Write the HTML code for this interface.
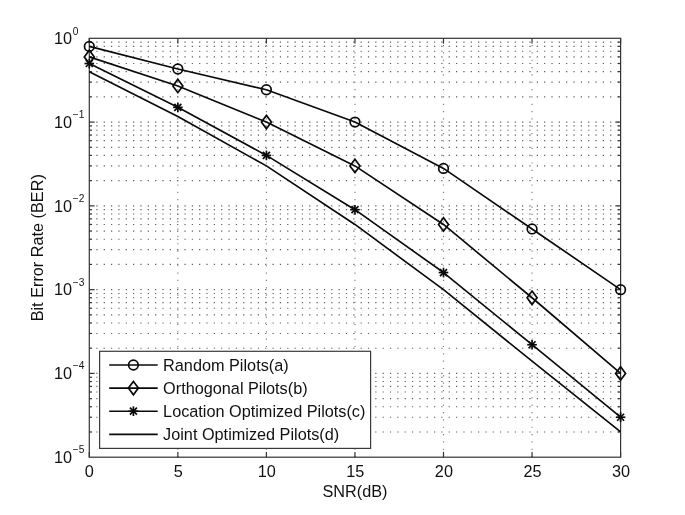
<!DOCTYPE html>
<html lang="en"><head><meta charset="utf-8"><title>BER vs SNR</title>
<style>html,body{margin:0;padding:0;background:#fff;}body{width:685px;height:515px;overflow:hidden;font-family:"Liberation Sans",Arial,sans-serif;}svg{display:block;}</style>
</head><body>
<svg width="685" height="515" viewBox="0 0 685 515" font-family="Liberation Sans, Arial, Helvetica, sans-serif">
<rect width="685" height="515" fill="#fff"/>
<g stroke="#5a5a5a" stroke-width="1.15" stroke-dasharray="1.2 6.14" fill="none"><line x1="89.00" y1="122.08" x2="620.60" y2="122.08"/><line x1="89.00" y1="96.86" x2="620.60" y2="96.86"/><line x1="89.00" y1="82.11" x2="620.60" y2="82.11"/><line x1="89.00" y1="71.64" x2="620.60" y2="71.64"/><line x1="89.00" y1="63.52" x2="620.60" y2="63.52"/><line x1="89.00" y1="56.89" x2="620.60" y2="56.89"/><line x1="89.00" y1="51.28" x2="620.60" y2="51.28"/><line x1="89.00" y1="46.42" x2="620.60" y2="46.42"/><line x1="89.00" y1="42.13" x2="620.60" y2="42.13"/><line x1="89.00" y1="205.86" x2="620.60" y2="205.86"/><line x1="89.00" y1="180.64" x2="620.60" y2="180.64"/><line x1="89.00" y1="165.89" x2="620.60" y2="165.89"/><line x1="89.00" y1="155.42" x2="620.60" y2="155.42"/><line x1="89.00" y1="147.30" x2="620.60" y2="147.30"/><line x1="89.00" y1="140.67" x2="620.60" y2="140.67"/><line x1="89.00" y1="135.06" x2="620.60" y2="135.06"/><line x1="89.00" y1="130.20" x2="620.60" y2="130.20"/><line x1="89.00" y1="125.91" x2="620.60" y2="125.91"/><line x1="89.00" y1="289.64" x2="620.60" y2="289.64"/><line x1="89.00" y1="264.42" x2="620.60" y2="264.42"/><line x1="89.00" y1="249.67" x2="620.60" y2="249.67"/><line x1="89.00" y1="239.20" x2="620.60" y2="239.20"/><line x1="89.00" y1="231.08" x2="620.60" y2="231.08"/><line x1="89.00" y1="224.45" x2="620.60" y2="224.45"/><line x1="89.00" y1="218.84" x2="620.60" y2="218.84"/><line x1="89.00" y1="213.98" x2="620.60" y2="213.98"/><line x1="89.00" y1="209.69" x2="620.60" y2="209.69"/><line x1="89.00" y1="373.42" x2="620.60" y2="373.42"/><line x1="89.00" y1="348.20" x2="620.60" y2="348.20"/><line x1="89.00" y1="333.45" x2="620.60" y2="333.45"/><line x1="89.00" y1="322.98" x2="620.60" y2="322.98"/><line x1="89.00" y1="314.86" x2="620.60" y2="314.86"/><line x1="89.00" y1="308.23" x2="620.60" y2="308.23"/><line x1="89.00" y1="302.62" x2="620.60" y2="302.62"/><line x1="89.00" y1="297.76" x2="620.60" y2="297.76"/><line x1="89.00" y1="293.47" x2="620.60" y2="293.47"/><line x1="89.00" y1="431.98" x2="620.60" y2="431.98"/><line x1="89.00" y1="417.23" x2="620.60" y2="417.23"/><line x1="89.00" y1="406.76" x2="620.60" y2="406.76"/><line x1="89.00" y1="398.64" x2="620.60" y2="398.64"/><line x1="89.00" y1="392.01" x2="620.60" y2="392.01"/><line x1="89.00" y1="386.40" x2="620.60" y2="386.40"/><line x1="89.00" y1="381.54" x2="620.60" y2="381.54"/><line x1="89.00" y1="377.25" x2="620.60" y2="377.25"/><line x1="177.85" y1="457.20" x2="177.85" y2="38.30" stroke="#7d7d7d"/><line x1="266.40" y1="457.20" x2="266.40" y2="38.30" stroke="#7d7d7d"/><line x1="354.95" y1="457.20" x2="354.95" y2="38.30" stroke="#7d7d7d"/><line x1="443.50" y1="457.20" x2="443.50" y2="38.30" stroke="#7d7d7d"/><line x1="532.05" y1="457.20" x2="532.05" y2="38.30" stroke="#7d7d7d"/></g>
<rect x="89.3" y="38.3" width="531.3000000000001" height="418.9" fill="none" stroke="#333" stroke-width="1.2"/>
<g stroke="#333" stroke-width="1.2"><line x1="89.30" y1="457.2" x2="89.30" y2="451.9"/><line x1="89.30" y1="38.3" x2="89.30" y2="43.599999999999994"/><line x1="177.85" y1="457.2" x2="177.85" y2="451.9"/><line x1="177.85" y1="38.3" x2="177.85" y2="43.599999999999994"/><line x1="266.40" y1="457.2" x2="266.40" y2="451.9"/><line x1="266.40" y1="38.3" x2="266.40" y2="43.599999999999994"/><line x1="354.95" y1="457.2" x2="354.95" y2="451.9"/><line x1="354.95" y1="38.3" x2="354.95" y2="43.599999999999994"/><line x1="443.50" y1="457.2" x2="443.50" y2="451.9"/><line x1="443.50" y1="38.3" x2="443.50" y2="43.599999999999994"/><line x1="532.05" y1="457.2" x2="532.05" y2="451.9"/><line x1="532.05" y1="38.3" x2="532.05" y2="43.599999999999994"/><line x1="620.60" y1="457.2" x2="620.60" y2="451.9"/><line x1="620.60" y1="38.3" x2="620.60" y2="43.599999999999994"/><line x1="89.3" y1="122.08" x2="94.6" y2="122.08"/><line x1="620.6" y1="122.08" x2="615.3000000000001" y2="122.08"/><line x1="89.3" y1="96.86" x2="92.0" y2="96.86"/><line x1="620.6" y1="96.86" x2="617.9" y2="96.86"/><line x1="89.3" y1="82.11" x2="92.0" y2="82.11"/><line x1="620.6" y1="82.11" x2="617.9" y2="82.11"/><line x1="89.3" y1="71.64" x2="92.0" y2="71.64"/><line x1="620.6" y1="71.64" x2="617.9" y2="71.64"/><line x1="89.3" y1="63.52" x2="92.0" y2="63.52"/><line x1="620.6" y1="63.52" x2="617.9" y2="63.52"/><line x1="89.3" y1="56.89" x2="92.0" y2="56.89"/><line x1="620.6" y1="56.89" x2="617.9" y2="56.89"/><line x1="89.3" y1="51.28" x2="92.0" y2="51.28"/><line x1="620.6" y1="51.28" x2="617.9" y2="51.28"/><line x1="89.3" y1="46.42" x2="92.0" y2="46.42"/><line x1="620.6" y1="46.42" x2="617.9" y2="46.42"/><line x1="89.3" y1="42.13" x2="92.0" y2="42.13"/><line x1="620.6" y1="42.13" x2="617.9" y2="42.13"/><line x1="89.3" y1="205.86" x2="94.6" y2="205.86"/><line x1="620.6" y1="205.86" x2="615.3000000000001" y2="205.86"/><line x1="89.3" y1="180.64" x2="92.0" y2="180.64"/><line x1="620.6" y1="180.64" x2="617.9" y2="180.64"/><line x1="89.3" y1="165.89" x2="92.0" y2="165.89"/><line x1="620.6" y1="165.89" x2="617.9" y2="165.89"/><line x1="89.3" y1="155.42" x2="92.0" y2="155.42"/><line x1="620.6" y1="155.42" x2="617.9" y2="155.42"/><line x1="89.3" y1="147.30" x2="92.0" y2="147.30"/><line x1="620.6" y1="147.30" x2="617.9" y2="147.30"/><line x1="89.3" y1="140.67" x2="92.0" y2="140.67"/><line x1="620.6" y1="140.67" x2="617.9" y2="140.67"/><line x1="89.3" y1="135.06" x2="92.0" y2="135.06"/><line x1="620.6" y1="135.06" x2="617.9" y2="135.06"/><line x1="89.3" y1="130.20" x2="92.0" y2="130.20"/><line x1="620.6" y1="130.20" x2="617.9" y2="130.20"/><line x1="89.3" y1="125.91" x2="92.0" y2="125.91"/><line x1="620.6" y1="125.91" x2="617.9" y2="125.91"/><line x1="89.3" y1="289.64" x2="94.6" y2="289.64"/><line x1="620.6" y1="289.64" x2="615.3000000000001" y2="289.64"/><line x1="89.3" y1="264.42" x2="92.0" y2="264.42"/><line x1="620.6" y1="264.42" x2="617.9" y2="264.42"/><line x1="89.3" y1="249.67" x2="92.0" y2="249.67"/><line x1="620.6" y1="249.67" x2="617.9" y2="249.67"/><line x1="89.3" y1="239.20" x2="92.0" y2="239.20"/><line x1="620.6" y1="239.20" x2="617.9" y2="239.20"/><line x1="89.3" y1="231.08" x2="92.0" y2="231.08"/><line x1="620.6" y1="231.08" x2="617.9" y2="231.08"/><line x1="89.3" y1="224.45" x2="92.0" y2="224.45"/><line x1="620.6" y1="224.45" x2="617.9" y2="224.45"/><line x1="89.3" y1="218.84" x2="92.0" y2="218.84"/><line x1="620.6" y1="218.84" x2="617.9" y2="218.84"/><line x1="89.3" y1="213.98" x2="92.0" y2="213.98"/><line x1="620.6" y1="213.98" x2="617.9" y2="213.98"/><line x1="89.3" y1="209.69" x2="92.0" y2="209.69"/><line x1="620.6" y1="209.69" x2="617.9" y2="209.69"/><line x1="89.3" y1="373.42" x2="94.6" y2="373.42"/><line x1="620.6" y1="373.42" x2="615.3000000000001" y2="373.42"/><line x1="89.3" y1="348.20" x2="92.0" y2="348.20"/><line x1="620.6" y1="348.20" x2="617.9" y2="348.20"/><line x1="89.3" y1="333.45" x2="92.0" y2="333.45"/><line x1="620.6" y1="333.45" x2="617.9" y2="333.45"/><line x1="89.3" y1="322.98" x2="92.0" y2="322.98"/><line x1="620.6" y1="322.98" x2="617.9" y2="322.98"/><line x1="89.3" y1="314.86" x2="92.0" y2="314.86"/><line x1="620.6" y1="314.86" x2="617.9" y2="314.86"/><line x1="89.3" y1="308.23" x2="92.0" y2="308.23"/><line x1="620.6" y1="308.23" x2="617.9" y2="308.23"/><line x1="89.3" y1="302.62" x2="92.0" y2="302.62"/><line x1="620.6" y1="302.62" x2="617.9" y2="302.62"/><line x1="89.3" y1="297.76" x2="92.0" y2="297.76"/><line x1="620.6" y1="297.76" x2="617.9" y2="297.76"/><line x1="89.3" y1="293.47" x2="92.0" y2="293.47"/><line x1="620.6" y1="293.47" x2="617.9" y2="293.47"/><line x1="89.3" y1="431.98" x2="92.0" y2="431.98"/><line x1="620.6" y1="431.98" x2="617.9" y2="431.98"/><line x1="89.3" y1="417.23" x2="92.0" y2="417.23"/><line x1="620.6" y1="417.23" x2="617.9" y2="417.23"/><line x1="89.3" y1="406.76" x2="92.0" y2="406.76"/><line x1="620.6" y1="406.76" x2="617.9" y2="406.76"/><line x1="89.3" y1="398.64" x2="92.0" y2="398.64"/><line x1="620.6" y1="398.64" x2="617.9" y2="398.64"/><line x1="89.3" y1="392.01" x2="92.0" y2="392.01"/><line x1="620.6" y1="392.01" x2="617.9" y2="392.01"/><line x1="89.3" y1="386.40" x2="92.0" y2="386.40"/><line x1="620.6" y1="386.40" x2="617.9" y2="386.40"/><line x1="89.3" y1="381.54" x2="92.0" y2="381.54"/><line x1="620.6" y1="381.54" x2="617.9" y2="381.54"/><line x1="89.3" y1="377.25" x2="92.0" y2="377.25"/><line x1="620.6" y1="377.25" x2="617.9" y2="377.25"/></g>
<polyline points="89.30,46.42 177.85,69.01 266.40,89.77 354.95,122.08 443.50,168.40 532.05,228.96 620.60,289.64" stroke="#0a0a0a" stroke-width="1.65" fill="none" stroke-linejoin="round"/>
<circle cx="89.30" cy="46.42" r="4.8" stroke="#0a0a0a" stroke-width="1.7" fill="none"/>
<circle cx="177.85" cy="69.01" r="4.8" stroke="#0a0a0a" stroke-width="1.7" fill="none"/>
<circle cx="266.40" cy="89.77" r="4.8" stroke="#0a0a0a" stroke-width="1.7" fill="none"/>
<circle cx="354.95" cy="122.08" r="4.8" stroke="#0a0a0a" stroke-width="1.7" fill="none"/>
<circle cx="443.50" cy="168.40" r="4.8" stroke="#0a0a0a" stroke-width="1.7" fill="none"/>
<circle cx="532.05" cy="228.96" r="4.8" stroke="#0a0a0a" stroke-width="1.7" fill="none"/>
<circle cx="620.60" cy="289.64" r="4.8" stroke="#0a0a0a" stroke-width="1.7" fill="none"/>
<polyline points="89.30,56.89 177.85,85.94 266.40,122.08 354.95,165.89 443.50,224.45 532.05,297.76 620.60,373.42" stroke="#0a0a0a" stroke-width="1.65" fill="none" stroke-linejoin="round"/>
<polygon points="89.30,50.19 94.30,56.89 89.30,63.59 84.30,56.89" stroke="#0a0a0a" stroke-width="1.7" fill="none"/>
<polygon points="177.85,79.24 182.85,85.94 177.85,92.64 172.85,85.94" stroke="#0a0a0a" stroke-width="1.7" fill="none"/>
<polygon points="266.40,115.38 271.40,122.08 266.40,128.78 261.40,122.08" stroke="#0a0a0a" stroke-width="1.7" fill="none"/>
<polygon points="354.95,159.19 359.95,165.89 354.95,172.59 349.95,165.89" stroke="#0a0a0a" stroke-width="1.7" fill="none"/>
<polygon points="443.50,217.75 448.50,224.45 443.50,231.15 438.50,224.45" stroke="#0a0a0a" stroke-width="1.7" fill="none"/>
<polygon points="532.05,291.06 537.05,297.76 532.05,304.46 527.05,297.76" stroke="#0a0a0a" stroke-width="1.7" fill="none"/>
<polygon points="620.60,366.72 625.60,373.42 620.60,380.12 615.60,373.42" stroke="#0a0a0a" stroke-width="1.7" fill="none"/>
<polyline points="89.30,63.52 177.85,107.33 266.40,155.42 354.95,209.69 443.50,272.54 532.05,344.73 620.60,417.23" stroke="#0a0a0a" stroke-width="1.65" fill="none" stroke-linejoin="round"/>
<g stroke="#0a0a0a" stroke-width="1.7" fill="none" stroke-width="1.8"><line x1="84.50" y1="63.52" x2="94.10" y2="63.52"/><line x1="89.30" y1="58.72" x2="89.30" y2="68.32"/><line x1="85.80" y1="60.02" x2="92.80" y2="67.02"/><line x1="85.80" y1="67.02" x2="92.80" y2="60.02"/></g>
<g stroke="#0a0a0a" stroke-width="1.7" fill="none" stroke-width="1.8"><line x1="173.05" y1="107.33" x2="182.65" y2="107.33"/><line x1="177.85" y1="102.53" x2="177.85" y2="112.13"/><line x1="174.35" y1="103.83" x2="181.35" y2="110.83"/><line x1="174.35" y1="110.83" x2="181.35" y2="103.83"/></g>
<g stroke="#0a0a0a" stroke-width="1.7" fill="none" stroke-width="1.8"><line x1="261.60" y1="155.42" x2="271.20" y2="155.42"/><line x1="266.40" y1="150.62" x2="266.40" y2="160.22"/><line x1="262.90" y1="151.92" x2="269.90" y2="158.92"/><line x1="262.90" y1="158.92" x2="269.90" y2="151.92"/></g>
<g stroke="#0a0a0a" stroke-width="1.7" fill="none" stroke-width="1.8"><line x1="350.15" y1="209.69" x2="359.75" y2="209.69"/><line x1="354.95" y1="204.89" x2="354.95" y2="214.49"/><line x1="351.45" y1="206.19" x2="358.45" y2="213.19"/><line x1="351.45" y1="213.19" x2="358.45" y2="206.19"/></g>
<g stroke="#0a0a0a" stroke-width="1.7" fill="none" stroke-width="1.8"><line x1="438.70" y1="272.54" x2="448.30" y2="272.54"/><line x1="443.50" y1="267.74" x2="443.50" y2="277.34"/><line x1="440.00" y1="269.04" x2="447.00" y2="276.04"/><line x1="440.00" y1="276.04" x2="447.00" y2="269.04"/></g>
<g stroke="#0a0a0a" stroke-width="1.7" fill="none" stroke-width="1.8"><line x1="527.25" y1="344.73" x2="536.85" y2="344.73"/><line x1="532.05" y1="339.93" x2="532.05" y2="349.53"/><line x1="528.55" y1="341.23" x2="535.55" y2="348.23"/><line x1="528.55" y1="348.23" x2="535.55" y2="341.23"/></g>
<g stroke="#0a0a0a" stroke-width="1.7" fill="none" stroke-width="1.8"><line x1="615.80" y1="417.23" x2="625.40" y2="417.23"/><line x1="620.60" y1="412.43" x2="620.60" y2="422.03"/><line x1="617.10" y1="413.73" x2="624.10" y2="420.73"/><line x1="617.10" y1="420.73" x2="624.10" y2="413.73"/></g>
<polyline points="89.30,71.64 177.85,116.52 266.40,165.89 354.95,224.45 443.50,289.64 532.05,361.18 620.60,431.98" stroke="#0a0a0a" stroke-width="1.65" fill="none" stroke-linejoin="round"/>
<text x="89.20" y="477.30" font-size="16.25" text-anchor="middle" fill="#111">0</text>
<text x="178.25" y="477.30" font-size="16.25" text-anchor="middle" fill="#111">5</text>
<text x="266.80" y="477.30" font-size="16.25" text-anchor="middle" fill="#111">10</text>
<text x="355.35" y="477.30" font-size="16.25" text-anchor="middle" fill="#111">15</text>
<text x="443.90" y="477.30" font-size="16.25" text-anchor="middle" fill="#111">20</text>
<text x="532.45" y="477.30" font-size="16.25" text-anchor="middle" fill="#111">25</text>
<text x="621.00" y="477.30" font-size="16.25" text-anchor="middle" fill="#111">30</text>
<text x="72.10" y="44.00" font-size="16.25" text-anchor="end" fill="#111">10</text><text x="72.80" y="35.30" font-size="10.2" fill="#111">0</text>
<text x="72.10" y="127.78" font-size="16.25" text-anchor="end" fill="#111">10</text><text x="72.80" y="118.08" font-size="10.2" fill="#111">−1</text>
<text x="72.10" y="211.56" font-size="16.25" text-anchor="end" fill="#111">10</text><text x="72.80" y="201.86" font-size="10.2" fill="#111">−2</text>
<text x="72.10" y="295.34" font-size="16.25" text-anchor="end" fill="#111">10</text><text x="72.80" y="285.64" font-size="10.2" fill="#111">−3</text>
<text x="72.10" y="379.12" font-size="16.25" text-anchor="end" fill="#111">10</text><text x="72.80" y="369.42" font-size="10.2" fill="#111">−4</text>
<text x="72.10" y="462.90" font-size="16.25" text-anchor="end" fill="#111">10</text><text x="72.80" y="453.20" font-size="10.2" fill="#111">−5</text>
<text x="354.95" y="496.5" font-size="16.25" text-anchor="middle" fill="#111">SNR(dB)</text>
<text transform="translate(42.9,247.75) rotate(-90)" font-size="16.25" text-anchor="middle" fill="#111">Bit Error Rate (BER)</text>
<rect x="99.6" y="351.3" width="271" height="97.1" fill="#fff" stroke="#3a3a3a" stroke-width="1.2"/>
<line x1="109.2" y1="365" x2="157.7" y2="365" stroke="#0a0a0a" stroke-width="1.65" fill="none" stroke-linejoin="round"/>
<circle cx="133.40" cy="365.00" r="4.8" stroke="#0a0a0a" stroke-width="1.7" fill="none"/>
<text x="163.1" y="370.8" font-size="16.25" fill="#111">Random Pilots(a)</text>
<line x1="109.2" y1="388.1" x2="157.7" y2="388.1" stroke="#0a0a0a" stroke-width="1.65" fill="none" stroke-linejoin="round"/>
<polygon points="133.40,381.40 138.40,388.10 133.40,394.80 128.40,388.10" stroke="#0a0a0a" stroke-width="1.7" fill="none"/>
<text x="163.1" y="393.90000000000003" font-size="16.25" fill="#111">Orthogonal Pilots(b)</text>
<line x1="109.2" y1="411.2" x2="157.7" y2="411.2" stroke="#0a0a0a" stroke-width="1.65" fill="none" stroke-linejoin="round"/>
<g stroke="#0a0a0a" stroke-width="1.7" fill="none" stroke-width="1.8"><line x1="128.60" y1="411.20" x2="138.20" y2="411.20"/><line x1="133.40" y1="406.40" x2="133.40" y2="416.00"/><line x1="129.90" y1="407.70" x2="136.90" y2="414.70"/><line x1="129.90" y1="414.70" x2="136.90" y2="407.70"/></g>
<text x="163.1" y="417.0" font-size="16.25" fill="#111">Location Optimized Pilots(c)</text>
<line x1="109.2" y1="434.3" x2="157.7" y2="434.3" stroke="#0a0a0a" stroke-width="1.65" fill="none" stroke-linejoin="round"/>
<text x="163.1" y="440.1" font-size="16.25" fill="#111">Joint Optimized Pilots(d)</text>
</svg>
</body></html>
